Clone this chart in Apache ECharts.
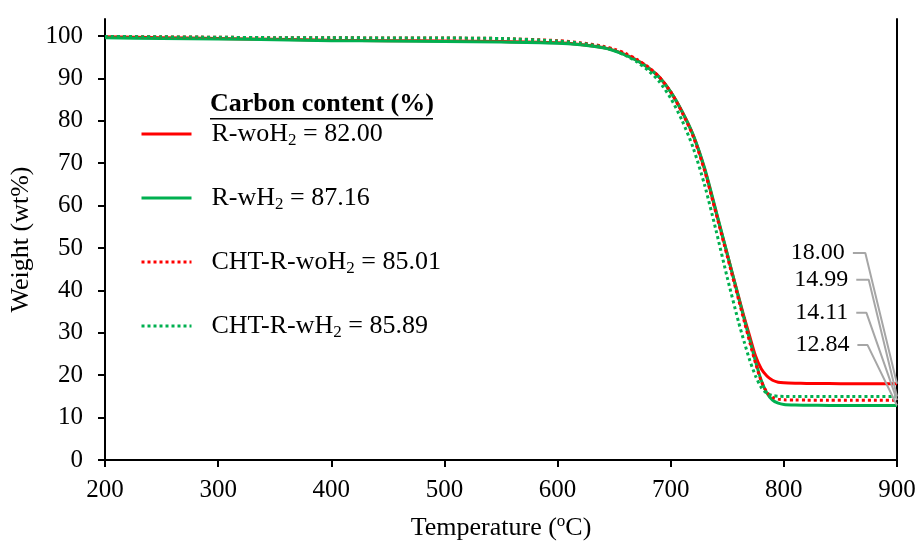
<!DOCTYPE html>
<html>
<head>
<meta charset="utf-8">
<script src="https://cdn.jsdelivr.net/npm/echarts@6/dist/echarts.min.js"></script>
<style>
html,body{margin:0;padding:0;background:#fff;}
#chart{width:918px;height:542px;}
</style>
</head>
<body>
<div id="chart"></div>
<script>
// ---- data ----
const temps = [200, 250, 300, 350, 400, 450, 500, 550, 600, 620, 640, 650, 660, 670, 680, 690, 700, 710, 720, 730, 740, 750, 760, 765, 770, 775, 780, 785, 790, 795, 800, 810, 820, 840, 860, 880, 900];
const rWoH2 = [99.8, 99.6, 99.4, 99.2, 99.0, 98.9, 98.8, 98.7, 98.4, 98.0, 97.3, 96.6, 95.6, 94.3, 92.6, 90.3, 86.8, 82.2, 76.5, 68.5, 58.5, 48.5, 38.5, 33.6, 29.0, 24.5, 21.5, 19.8, 18.8, 18.35, 18.2, 18.1, 18.05, 18.02, 18.0, 18.0, 18.0];
const rWH2 = [99.6, 99.4, 99.3, 99.1, 98.9, 98.8, 98.7, 98.6, 98.3, 97.9, 97.2, 96.5, 95.5, 94.2, 92.5, 90.2, 86.8, 82.2, 76.6, 68.8, 58.8, 48.6, 38.3, 33.2, 28.2, 23.2, 18.8, 15.8, 14.1, 13.4, 13.1, 12.95, 12.9, 12.87, 12.85, 12.84, 12.84];
const chtRWoH2 = [99.9, 99.8, 99.7, 99.6, 99.6, 99.5, 99.5, 99.4, 98.9, 98.4, 97.6, 96.9, 95.9, 94.5, 92.7, 90.3, 86.8, 82.0, 76.2, 68.2, 58.2, 48.0, 37.8, 32.7, 27.6, 22.8, 18.6, 16.0, 14.8, 14.35, 14.2, 14.15, 14.12, 14.11, 14.11, 14.11, 14.11];
const chtRWH2 = [99.9, 99.8, 99.7, 99.6, 99.6, 99.5, 99.5, 99.4, 98.8, 98.3, 97.4, 96.6, 95.4, 93.9, 91.9, 89.2, 85.3, 80.1, 73.5, 64.8, 54.2, 43.0, 32.5, 27.8, 23.4, 19.8, 17.1, 15.7, 15.2, 15.05, 15.0, 15.0, 15.0, 14.99, 14.99, 14.99, 14.99];

const seriesNames = ['R-woH2', 'R-wH2', 'CHT-R-woH2', 'CHT-R-wH2'];
const carbonContent = ['82.00', '87.16', '85.01', '85.89'];
const legendTitle = 'Carbon content (%)';

const xTicks = [200, 300, 400, 500, 600, 700, 800, 900];
const yTicks = [0, 10, 20, 30, 40, 50, 60, 70, 80, 90, 100];

// residual-mass annotations
const endLabels = ['18.00', '14.99', '14.11', '12.84'];
const endValues = [18.00, 14.99, 14.11, 12.84];
const labelY = [48.8, 42.5, 34.7, 27.1];
const leadStartT = [861, 864, 864, 865];
const leadBendT = [872, 875, 873, 874];

// ---- chart ----
const FONT = '"Liberation Serif", "Times New Roman", serif';
const RED = '#FF0000', GREEN = '#00B050', GREY = '#A6A6A6';
const chart = echarts.init(document.getElementById('chart'), null, {renderer: 'canvas'});

function mk(arr) { return temps.map((t, i) => [t, arr[i]]); }
const curveData = [rWoH2, rWH2, chtRWoH2, chtRWH2];
const curveColor = [RED, GREEN, RED, GREEN];
const curveDash = ['solid', 'solid', [3, 3], [3, 3]];

const series = [];
seriesNames.forEach((n, i) => {
  series.push({
    name: n,
    type: 'line',
    data: mk(curveData[i]),
    showSymbol: false,
    symbol: 'none',
    smooth: 0.25,
    z: 2 + i,
    lineStyle: {color: curveColor[i], width: 3, type: curveDash[i], cap: 'butt'},
    itemStyle: {color: curveColor[i]},
    emphasis: {disabled: true},
    silent: true
  });
});
endLabels.forEach((s, i) => {
  series.push({
    name: 'lead' + i,
    type: 'line',
    data: [[leadStartT[i], labelY[i]], [leadBendT[i], labelY[i]], [900, endValues[i]]],
    showSymbol: false,
    symbol: 'none',
    z: 10,
    lineStyle: {color: GREY, width: 2},
    emphasis: {disabled: true},
    silent: true
  });
});
series.push({
  name: 'labels',
  type: 'scatter',
  symbolSize: 0,
  silent: true,
  itemStyle: {opacity: 1},
  data: endLabels.map((s, i) => ({value: [leadStartT[i], labelY[i]], label: {formatter: s}})),
  label: {show: true, position: 'left', distance: 8, fontFamily: FONT, fontSize: 24, color: '#000', opacity: 1}
});

const option = {
  animation: false,
  backgroundColor: '#fff',
  grid: {left: 105, right: 21, top: 19, bottom: 82, containLabel: false, outerBoundsMode: 'none'},
  xAxis: {
    type: 'value', min: 200, max: 900, interval: 100,
    name: 'Temperature ({sup|o}C)',
    nameLocation: 'middle', nameGap: 53,
    nameTextStyle: {fontFamily: FONT, fontSize: 26, color: '#000', lineHeight: 30,
      rich: {sup: {fontFamily: FONT, fontSize: 17, lineHeight: 16, verticalAlign: 'top', color: '#000'}}},
    axisLine: {show: true, onZero: false, lineStyle: {color: '#000', width: 2}},
    axisTick: {show: true, inside: false, length: 7, lineStyle: {color: '#000', width: 2}},
    axisLabel: {fontFamily: FONT, fontSize: 25, color: '#000', margin: 18, customValues: xTicks},
    splitLine: {show: false}
  },
  yAxis: [{
    type: 'value', min: 0, max: 104,
    name: 'Weight (wt%)',
    nameLocation: 'middle', nameGap: 58, nameRotate: 90,
    nameTextStyle: {fontFamily: FONT, fontSize: 26, color: '#000'},
    axisLine: {show: true, onZero: false, lineStyle: {color: '#000', width: 2}},
    axisTick: {show: true, inside: false, length: 7, lineStyle: {color: '#000', width: 2}, customValues: yTicks},
    axisLabel: {fontFamily: FONT, fontSize: 25, color: '#000', margin: 22, customValues: yTicks},
    splitLine: {show: false}
  }, {
    type: 'value', min: 0, max: 104, position: 'right',
    axisLine: {show: true, onZero: false, lineStyle: {color: '#000', width: 2}},
    axisTick: {show: false}, axisLabel: {show: false}, splitLine: {show: false}
  }],
  legend: {
    data: seriesNames,
    orient: 'vertical',
    left: 140, top: 119, padding: 0,
    itemWidth: 50, itemHeight: 12, itemGap: 34,
    itemStyle: {opacity: 0},
    lineStyle: {width: 3},
    selectedMode: false,
    formatter: function (name) {
      const i = seriesNames.indexOf(name);
      return '{gap| }' + name.replace('H2', 'H{sub|2}') + ' = ' + carbonContent[i];
    },
    textStyle: {fontFamily: FONT, fontSize: 26, color: '#000', lineHeight: 30,
      rich: {
        gap: {width: 15, fontSize: 26, lineHeight: 30},
        sub: {fontFamily: FONT, fontSize: 17, lineHeight: 12, verticalAlign: 'bottom', color: '#000'}
      }}
  },
  graphic: [{
    type: 'group', left: 210, top: 91,
    children: [
      {type: 'text', style: {text: legendTitle, font: 'bold 26px ' + FONT, fill: '#000'}, left: 0, top: 0},
      {type: 'rect', shape: {x: 0, y: 27, width: 223, height: 1.6}, style: {fill: '#000'}}
    ]
  }],
  series: series
};
chart.setOption(option);
</script>
</body>
</html>
